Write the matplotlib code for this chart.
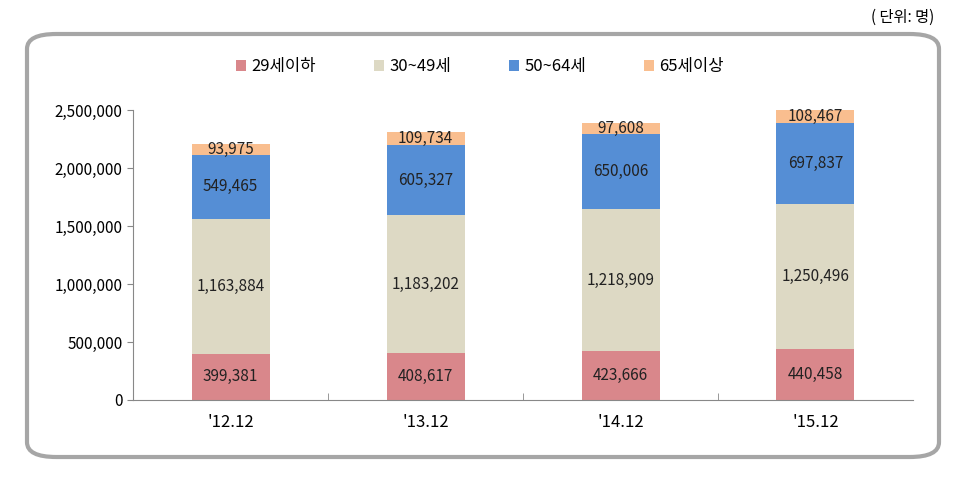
import numpy as np
import matplotlib.pyplot as plt
from matplotlib.patches import FancyBboxPatch
from matplotlib.ticker import FuncFormatter

plt.rcParams['font.family'] = ['Noto Sans CJK KR', 'DejaVu Sans']

# data
periods = ["'12.12", "'13.12", "'14.12", "'15.12"]
series_names = ['29세이하', '30~49세', '50~64세', '65세이상']
age_29_under = [399381, 408617, 423666, 440458]
age_30_49 = [1163884, 1183202, 1218909, 1250496]
age_50_64 = [549465, 605327, 650006, 697837]
age_65_over = [93975, 109734, 97608, 108467]

colors = ['#D9878B', '#DDD9C4', '#558ED5', '#F9BE8F']

fig = plt.figure(figsize=(9.78, 4.93), dpi=100)

# rounded frame around the chart
frame = FancyBboxPatch((27 / 978, 1 - 457 / 493), 912 / 978, 423 / 493,
                       boxstyle='round,pad=0,rounding_size=0.03',
                       transform=fig.transFigure, facecolor='none',
                       edgecolor='#A6A6A6', linewidth=3, zorder=0)
fig.patches.append(frame)

fig.text(0.955, 0.965, '( 단위: 명)', ha='right', va='center', fontsize=11)

ax = fig.add_axes([133 / 978, 1 - 400 / 493, 780 / 978, 290 / 493])
ax.set_facecolor('none')

x = np.arange(len(periods))
bottom = np.zeros(len(periods))
all_series = [age_29_under, age_30_49, age_50_64, age_65_over]
for name, vals, col in zip(series_names, all_series, colors):
    vals = np.array(vals)
    bars = ax.bar(x, vals, width=0.4, bottom=bottom, color=col, label=name, zorder=2)
    for xi, b, v in zip(x, bottom, vals):
        ax.text(xi, b + v / 2, f'{v:,}', ha='center', va='center',
                fontsize=11, color='#222222', zorder=3)
    bottom = bottom + vals

ax.set_xlim(-0.5, len(periods) - 0.5)
ax.set_ylim(0, 2500000)
ax.set_yticks(np.arange(0, 2500001, 500000))
ax.yaxis.set_major_formatter(FuncFormatter(lambda v, p: f'{int(v):,}'))
ax.set_xticks(x)
ax.set_xticklabels(periods)
ax.set_xticks(np.arange(0.5, len(periods) - 0.5, 1), minor=True)
ax.tick_params(axis='x', which='major', length=0, pad=10, labelsize=12)
ax.tick_params(axis='x', which='minor', length=5, color='#888888', direction='in')
ax.tick_params(axis='y', length=4, color='#888888', labelsize=11)

for s in ['top', 'right']:
    ax.spines[s].set_visible(False)
for s in ['left', 'bottom']:
    ax.spines[s].set_color('#888888')

ax.legend(loc='center', bbox_to_anchor=(480 / 978, 1 - 67 / 493),
          bbox_transform=fig.transFigure, ncol=4, frameon=False,
          fontsize=12, handlelength=0.6, handleheight=0.6,
          handletextpad=0.3, columnspacing=3.5)

fig.savefig('out.png', dpi=100)
